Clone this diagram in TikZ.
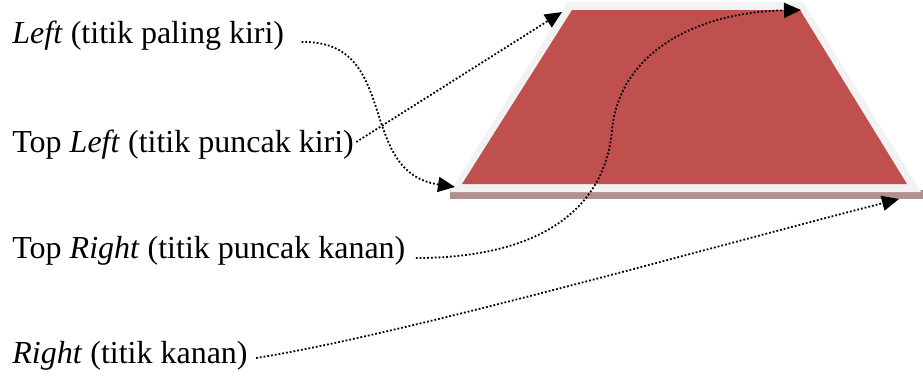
\documentclass[tikz,border=0pt]{standalone}
\usepackage{fontspec}
\setmainfont{Liberation Serif}
\usepackage{xcolor}
\usetikzlibrary{arrows.meta}
\definecolor{merah}{HTML}{C0504D}
\definecolor{bingkai}{HTML}{F2F2F2}
\definecolor{bayang}{HTML}{B28F92}
\tikzset{
Panah/.style={
 draw=black, 
 line width=0.9pt, 
 dash pattern=on 0.9pt off 1pt, 
 -{Triangle[length=8.5pt,width=7.5pt]}
 },
Teks/.style={
 anchor=base west, 
 inner sep=0pt, 
 font=\fontsize{16}{19}\selectfont
 }
}
\begin{document}
\begin{tikzpicture}[x=0.5pt,y=-0.5pt]
\useasboundingbox (0,0) rectangle (923,381);
% trapesium
\fill[bayang] (450,190) rectangle (923,199);
\fill[bingkai] (568,2) -- (803,2) -- (921,192) -- (450,192) -- cycle;
\fill[merah] (572,10) -- (800,10) -- (907,184) -- (462,184) -- cycle;
% titik sudut
\coordinate (kiri) at (455,187);
\coordinate (puncakkiri) at (562,12);
\coordinate (puncakkanan) at (801,10);
\coordinate (kanan) at (899,199);
% keterangan
\node[Teks] (tLeft) at (12,43) {\textit{Left} (titik paling kiri)};
\node[Teks] (tTopLeft) at (12,152) {Top \textit{Left} (titik puncak kiri)};
\node[Teks] (tTopRight) at (12,258) {Top \textit{Right} (titik puncak kanan)};
\node[Teks] (tRight) at (12,363) {\textit{Right} (titik kanan)};
% panah
\draw[Panah] ([xshift=8.5pt,yshift=0.5pt]tLeft.base east) .. controls +(100,-2) and +(-100,-15) .. (kiri);
\draw[Panah] ([xshift=1pt,yshift=5pt]tTopLeft.base east) -- (puncakkiri);
\draw[Panah] ([xshift=5pt]tTopRight.base east) .. controls +(123,0) and (605,210) .. (612,130) .. controls (620,50) and (700,12) .. (puncakkanan);
\draw[Panah] ([xshift=4pt,yshift=2.5pt]tRight.base east) .. controls +(145,-23) and +(-199,51) .. (kanan);
\end{tikzpicture}
\end{document}
